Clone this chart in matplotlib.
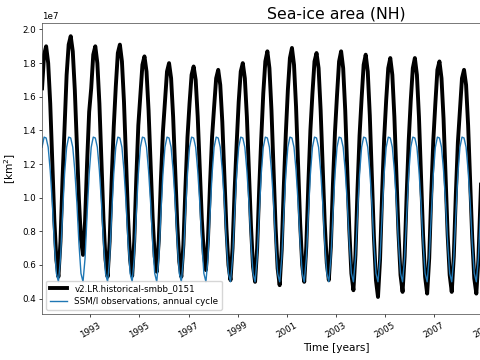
import numpy as np
import matplotlib
matplotlib.use("Agg")
import matplotlib.pyplot as plt

# Monthly NH sea-ice area, 10^6 km^2
years = list(range(1991, 2009))
model_monthly = [
    [16.5, 18.5, 19.0, 18.0, 15.6, 12.2, 8.7, 6.3, 5.3, 7.4, 11.1, 14.2],   # 1991
    [17.3, 19.1, 19.6, 18.7, 16.4, 13.1, 9.9, 7.5, 6.6, 8.6, 12.1, 15.1],   # 1992
    [16.5, 18.5, 19.0, 18.0, 15.6, 12.2, 8.7, 6.3, 5.3, 7.4, 11.1, 14.2],   # 1993
    [16.6, 18.6, 19.1, 18.1, 15.7, 12.2, 8.8, 6.3, 5.35, 7.4, 11.1, 14.3],  # 1994
    [16.1, 17.9, 18.4, 17.5, 15.2, 12.0, 8.8, 6.5, 5.6, 7.5, 11.0, 13.9],   # 1995
    [15.7, 17.5, 18.0, 17.1, 14.8, 11.7, 8.5, 6.2, 5.3, 7.2, 10.6, 13.6],   # 1996
    [15.6, 17.3, 17.8, 17.0, 14.8, 11.8, 8.7, 6.6, 5.7, 7.5, 10.8, 13.6],   # 1997
    [15.4, 17.1, 17.6, 16.7, 14.5, 11.4, 8.2, 6.0, 5.1, 7.0, 10.4, 13.2],   # 1998
    [15.7, 17.5, 18.0, 17.1, 14.8, 11.5, 8.3, 5.9, 5.0, 7.0, 10.5, 13.5],   # 1999
    [16.2, 18.1, 18.7, 17.7, 15.2, 11.8, 8.3, 5.8, 4.8, 6.9, 10.6, 13.8],   # 2000
    [16.4, 18.3, 18.9, 17.9, 15.4, 12.0, 8.5, 6.0, 5.0, 7.1, 10.8, 14.0],   # 2001
    [16.2, 18.1, 18.6, 17.7, 15.2, 11.9, 8.5, 6.1, 5.1, 7.1, 10.8, 13.9],   # 2002
    [16.1, 18.1, 18.7, 17.7, 15.2, 11.6, 8.1, 5.5, 4.5, 6.6, 10.5, 13.7],   # 2003
    [15.9, 17.9, 18.5, 17.5, 14.9, 11.3, 7.7, 5.1, 4.1, 6.3, 10.2, 13.5],   # 2004
    [15.8, 17.7, 18.3, 17.3, 14.8, 11.4, 7.9, 5.4, 4.4, 6.5, 10.2, 13.4],   # 2005
    [15.8, 17.7, 18.3, 17.3, 14.8, 11.3, 7.8, 5.3, 4.3, 6.4, 10.2, 13.4],   # 2006
    [15.6, 17.6, 18.1, 17.1, 14.7, 11.3, 7.8, 5.4, 4.4, 6.5, 10.2, 13.3],   # 2007
    [15.2, 17.1, 17.6, 16.7, 14.3, 11.0, 7.6, 5.2, 4.3, 6.3, 9.9, 13.0],    # 2008
]
model_2009 = [15.5, 17.4, 17.9, 17.0]

# SSM/I climatological annual cycle (Jan..Dec), 10^6 km^2
obs_clim = [13.0, 13.6, 13.55, 13.0, 11.6, 9.7, 7.3, 5.5, 5.0, 6.4, 9.0, 11.4]

model_label = "v2.LR.historical-smbb_0151"
obs_label = "SSM/I observations, annual cycle"

s = 0.63  # everything looks scaled down from matplotlib defaults
plt.rcParams["axes.linewidth"] = 0.8 * s
plt.rcParams["xtick.major.width"] = 0.8 * s
plt.rcParams["ytick.major.width"] = 0.8 * s
plt.rcParams["xtick.major.size"] = 3.5 * s
plt.rcParams["ytick.major.size"] = 3.5 * s
plt.rcParams["xtick.major.pad"] = 3.5 * s
plt.rcParams["ytick.major.pad"] = 3.5 * s
plt.rcParams["xtick.labelsize"] = 10 * s
plt.rcParams["ytick.labelsize"] = 10 * s
plt.rcParams["axes.edgecolor"] = "#444444"

model = np.concatenate([np.ravel(model_monthly), model_2009]) * 1e6
t_model = years[0] + (np.arange(len(model)) + 0.5) / 12.0
obs = np.tile(obs_clim, len(years) + 1)[:len(model)] * 1e6
t_obs = t_model

fig = plt.figure(figsize=(4.8, 3.6), dpi=100)
# axes runs past the right edge, like the original crop
ax = fig.add_axes([0.0875, 0.127, 1.225, 0.808])

ax.plot(t_model, model, color="black", lw=2.8, label=model_label)
ax.plot(t_obs, obs, color="#1f77b4", lw=1.0, label=obs_label)

ax.set_xlim(1991.04, 2014.96)
ax.set_ylim(0.307e7, 2.036e7)
ax.set_xticks(np.arange(1993, 2015, 2))
ax.set_xticklabels([str(y) for y in range(1993, 2015, 2)], rotation=30)
ax.yaxis.get_offset_text().set_fontsize(10 * s)

ax.set_title("Sea-ice area (NH)", fontsize=18 * s, pad=6 * s)
ax.set_xlabel("Time [years]", fontsize=12 * s, labelpad=4 * s)
ax.set_ylabel("[km$^2$]", fontsize=12 * s, labelpad=4 * s)

ax.legend(loc="lower left", fontsize=10 * s)

fig.savefig("out.png", dpi=100)
